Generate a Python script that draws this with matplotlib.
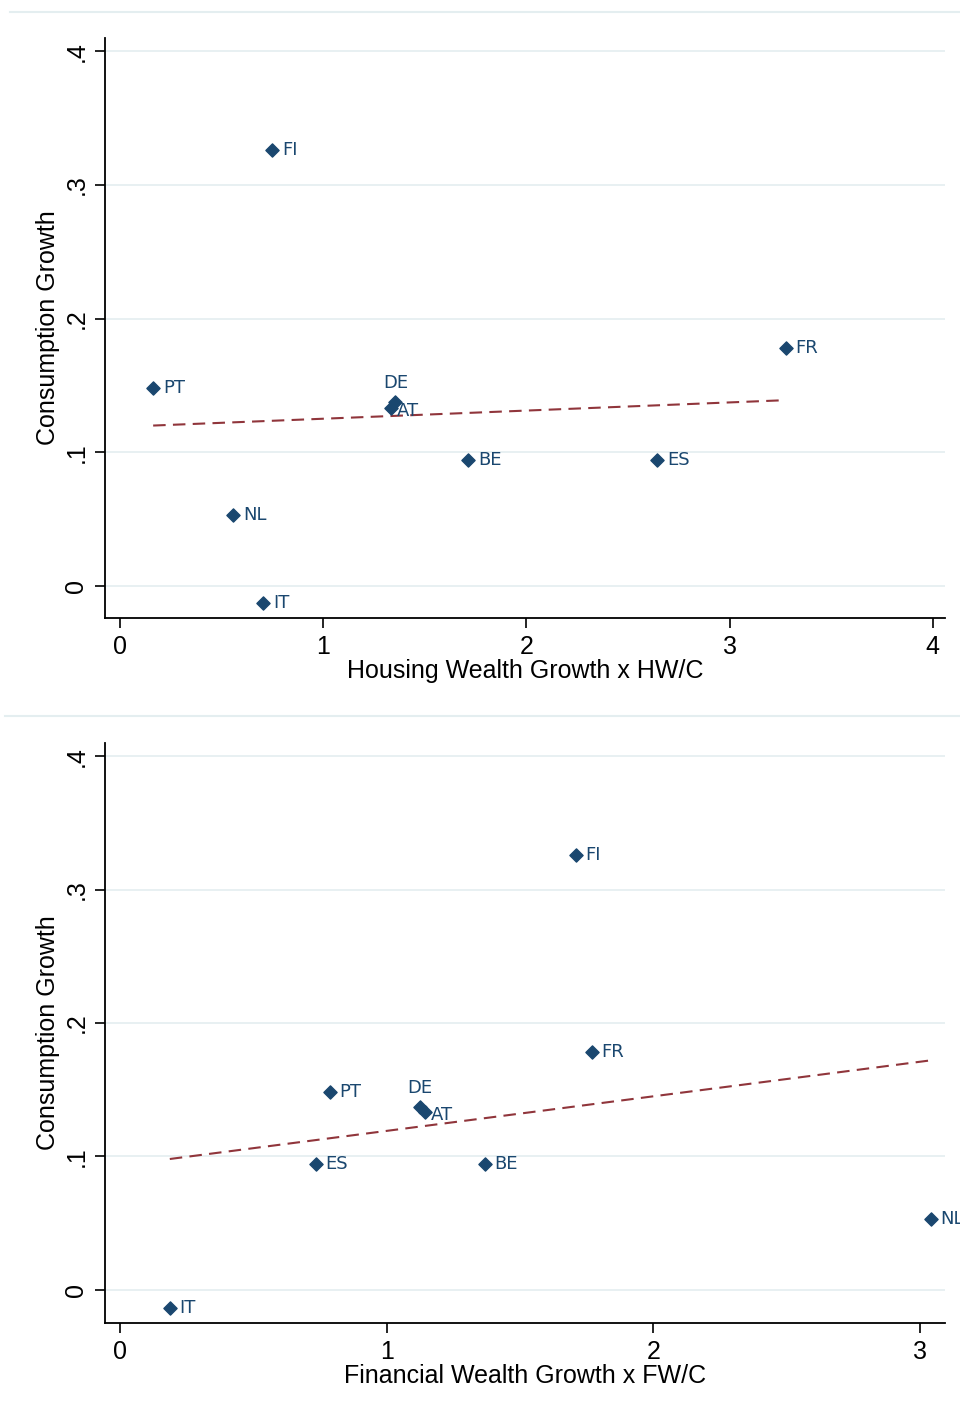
import matplotlib
matplotlib.use("Agg")
import matplotlib.pyplot as plt

# data
countries_hw = ["FI", "PT", "DE", "AT", "FR", "BE", "ES", "NL", "IT"]
hw_x = [0.749, 0.163, 1.355, 1.335, 3.276, 1.714, 2.645, 0.557, 0.704]
hw_y = [0.326, 0.148, 0.138, 0.133, 0.178, 0.094, 0.094, 0.053, -0.013]
hw_fit_x = [0.163, 3.276]
hw_fit_y = [0.120, 0.139]

countries_fw = ["FI", "FR", "PT", "DE", "AT", "ES", "BE", "NL", "IT"]
fw_x = [1.710, 1.770, 0.787, 1.125, 1.144, 0.735, 1.369, 3.041, 0.187]
fw_y = [0.326, 0.1785, 0.148, 0.137, 0.133, 0.0945, 0.0945, 0.053, -0.0135]
fw_fit_x = [0.187, 3.041]
fw_fit_y = [0.098, 0.172]

yticks = [0, 0.1, 0.2, 0.3, 0.4]
ytick_labels = ["0", ".1", ".2", ".3", ".4"]

plt.rcParams['font.family'] = ["Liberation Sans", "DejaVu Sans"]

navy = "#1a476f"
maroon = "#90353b"
grid = "#e4eef0"

fig = plt.figure(figsize=(9.6, 14.11), dpi=100)
W, H = 960, 1411


def box(l, t, r, b):
    return [l / W, 1 - b / H, (r - l) / W, (b - t) / H]


# thin separator lines of the graph regions
fig.add_artist(plt.Line2D([10 / W, 1], [1 - 12 / H, 1 - 12 / H], color=grid, lw=1.5))
fig.add_artist(plt.Line2D([5 / W, 1], [1 - 716 / H, 1 - 716 / H], color=grid, lw=1.5))


def panel(rect, xs, ys, labs, fx, fy, xlim, ylim, xticks, xlabel, special):
    ax = fig.add_axes(rect)
    ax.set_xlim(*xlim)
    ax.set_ylim(*ylim)
    for s in ["top", "right"]:
        ax.spines[s].set_visible(False)
    for s in ["left", "bottom"]:
        ax.spines[s].set_linewidth(1.3)
    ax.set_yticks(yticks)
    ax.set_yticklabels(ytick_labels, rotation=90, va="center", fontsize=18)
    ax.set_xticks(xticks)
    ax.set_xticklabels([str(t) for t in xticks], fontsize=18)
    ax.tick_params(length=7, width=1.2, direction="out", pad=5)
    ax.yaxis.grid(True, color=grid, lw=1.2)
    ax.set_axisbelow(True)
    ax.plot(fx, fy, color=maroon, lw=1.5, ls=(0, (6, 3.5)), zorder=2)
    ax.scatter(xs, ys, marker="D", s=45, color=navy, zorder=3, clip_on=False)
    for x, y, lab in zip(xs, ys, labs):
        if lab in special:
            dx, dy, ha, va = special[lab]
        else:
            dx, dy, ha, va = 7, 0, "left", "center"
        ax.annotate(lab, (x, y), xytext=(dx, dy), textcoords="offset points",
                    ha=ha, va=va, fontsize=13, color=navy, family="DejaVu Sans",
                    annotation_clip=False)
    ax.set_ylabel("Consumption Growth", fontsize=18, labelpad=3)
    ax.set_xlabel(xlabel, fontsize=18, labelpad=0)
    return ax


panel(box(105, 38, 945, 618), hw_x, hw_y, countries_hw, hw_fit_x, hw_fit_y,
      (-0.074, 4.06), (-0.024, 0.41), [0, 1, 2, 3, 4], "Housing Wealth Growth x HW/C",
      {"DE": (0, 7, "center", "bottom"), "AT": (4, -2, "left", "center")})

panel(box(105, 743, 945, 1323), fw_x, fw_y, countries_fw, fw_fit_x, fw_fit_y,
      (-0.056, 3.094), (-0.025, 0.41), [0, 1, 2, 3], "Financial Wealth Growth x FW/C",
      {"DE": (0, 7, "center", "bottom"), "AT": (4, -2, "left", "center")})

fig.savefig("out.png", dpi=100, facecolor="white")
